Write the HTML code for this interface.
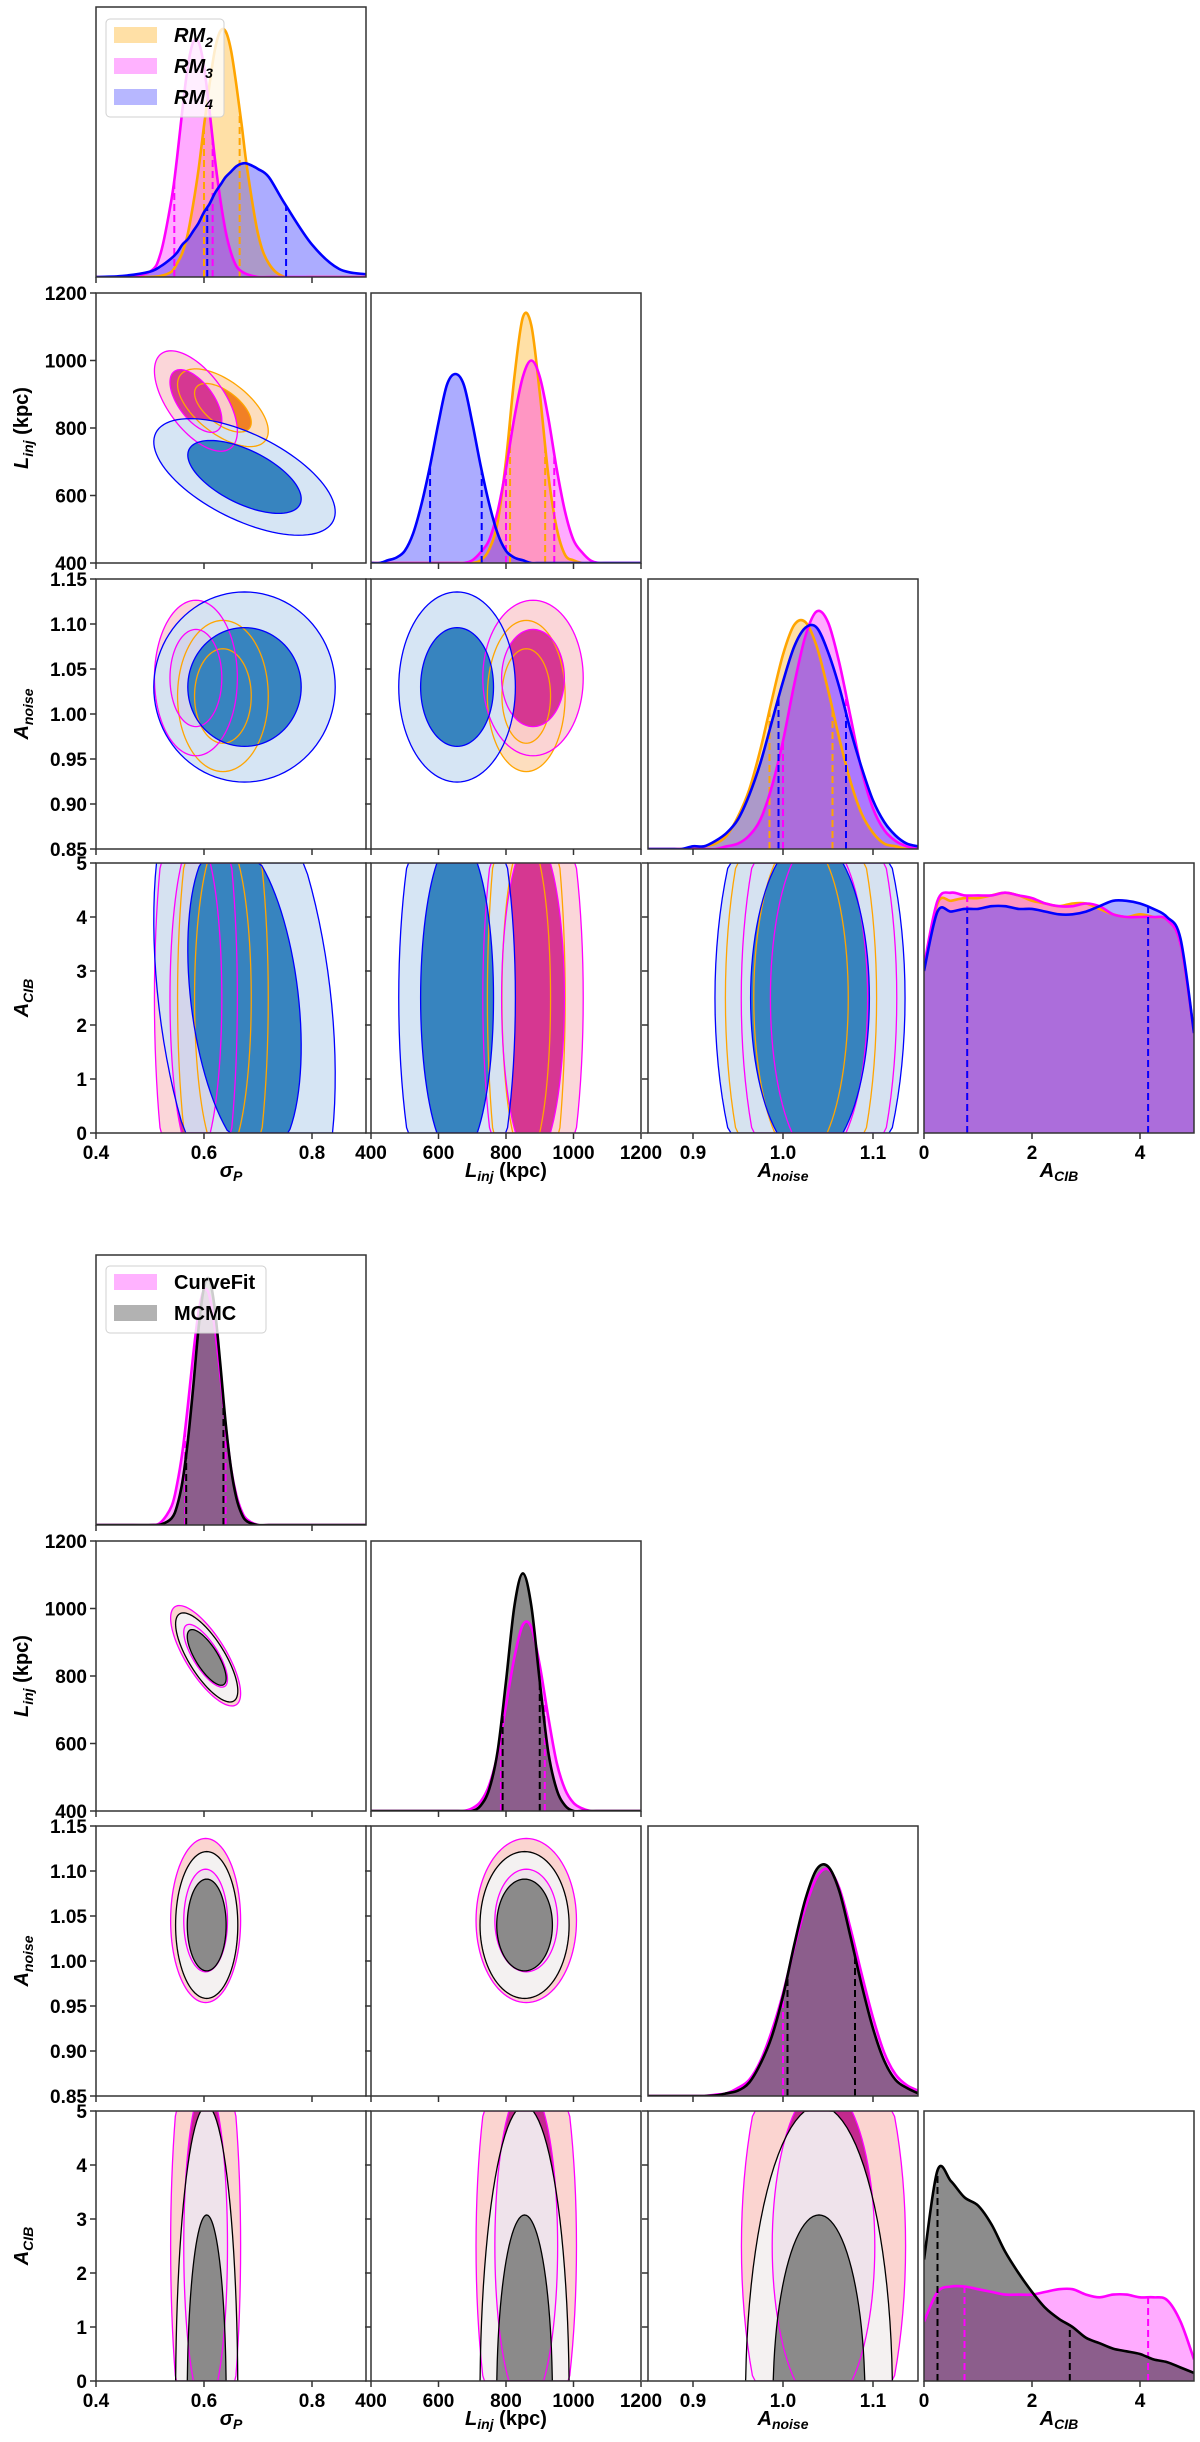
<!DOCTYPE html>
<html><head><meta charset="utf-8"><title>Corner plots</title>
<style>
html,body{margin:0;padding:0;background:#fff;overflow:hidden;width:1200px;height:2442px;}
svg text{font-family:"Liberation Sans",sans-serif;}
.tk{font-size:19px;font-weight:bold;fill:#000;}
.ttl{font-size:20px;font-weight:bold;fill:#000;}
</style></head>
<body>
<svg id="fig" xmlns="http://www.w3.org/2000/svg" width="1200" height="2442" viewBox="0 0 1200 2442" style="display:block;overflow:hidden">
<rect x="0" y="0" width="1200" height="2442" fill="#fff"/>
</svg>
<script>
// ---------- data ----------
const paramNames = ['sigma_P','L_inj','A_noise','A_CIB'];
const paramLo = [0.4, 400, 0.85, 0];
const paramHi = [0.9, 1200, 1.15, 5];
const xTickVals = [[0.4,0.6,0.8],[400,600,800,1000,1200],[0.9,1.0,1.1],[0,2,4]];
const xTickLabels = [['0.4','0.6','0.8'],['400','600','800','1000','1200'],['0.9','1.0','1.1'],['0','2','4']];
const yTickVals = [[],[400,600,800,1000,1200],[0.85,0.90,0.95,1.00,1.05,1.10,1.15],[0,1,2,3,4,5]];
const yTickLabels = [[],['400','600','800','1000','1200'],['0.85','0.90','0.95','1.00','1.05','1.10','1.15'],['0','1','2','3','4','5']];

const gridSigma = [.40,.45,.50,.52,.54,.55,.56,.57,.58,.59,.60,.61,.62,.63,.64,.65,.66,.67,.68,.70,.72,.75,.80,.85,.90];
const gridL = [400,425,450,475,500,525,550,575,600,625,650,675,700,725,750,775,800,825,850,875,900,925,950,975,1000,1025,1050,1075,1100,1125,1150,1175,1200];
const gridAn = [.85,.8625,.875,.8875,.90,.9125,.925,.9375,.95,.9625,.975,.9875,1.0,1.0125,1.025,1.0375,1.05,1.0625,1.075,1.0875,1.10,1.1125,1.125,1.1375,1.15];
const gridAcib = [0,.25,.5,.75,1,1.25,1.5,1.75,2,2.25,2.5,2.75,3,3.25,3.5,3.75,4,4.25,4.5,4.75,5];

// top corner: RM2 / RM3 / RM4
const rm2Sigma = [0,0,0,.004,.02,.05,.09,.16,.27,.40,.56,.71,.84,.91,.91,.84,.71,.56,.40,.16,.05,0,0,0,0];
const rm3Sigma = [0,0,.02,.09,.29,.44,.62,.78,.87,.87,.78,.62,.44,.29,.17,.09,.04,.02,.01,0,0,0,0,0,0];
const rm4Sigma = [0,.004,.02,.04,.07,.09,.12,.14,.17,.20,.24,.27,.31,.34,.37,.39,.41,.42,.42,.40,.37,.27,.12,.03,.01];
const rm2L = [0,0,0,0,0,0,0,0,0,0,0,0,0,.01,.05,.15,.38,.69,.91,.88,.63,.33,.13,.03,.01,0,0,0,0,0,0,0,0];
const rm3L = [0,0,0,0,0,0,0,0,0,0,0,0,.01,.04,.085,.19,.35,.54,.69,.75,.69,.54,.35,.19,.085,.04,.01,0,0,0,0,0,0];
const rm4L = [0,0,.01,.02,.045,.11,.22,.36,.52,.66,.70,.66,.52,.36,.22,.11,.045,.02,.01,0,0,0,0,0,0,0,0,0,0,0,0,0,0];
const rm2An = [0,0,0,0,.002,.01,.02,.05,.12,.22,.37,.55,.72,.83,.84,.75,.59,.41,.25,.13,.06,.02,.01,0,0];
const rm3An = [0,0,0,0,0,0,0,.01,.02,.05,.11,.23,.40,.61,.79,.88,.84,.69,.49,.29,.15,.07,.03,.01,0];
const rm4An = [0,0,0,0,.01,.01,.03,.06,.11,.20,.32,.47,.62,.75,.82,.82,.73,.60,.44,.30,.18,.10,.05,.02,.01];
const rm2Acib = [.6,.85,.86,.87,.87,.88,.89,.88,.86,.85,.84,.85,.85,.83,.81,.80,.81,.80,.79,.70,.37];
const rm3Acib = [.62,.86,.89,.88,.88,.88,.89,.88,.87,.85,.84,.84,.85,.84,.81,.80,.80,.80,.79,.70,.37];
const rm4Acib = [.6,.82,.82,.83,.83,.84,.84,.83,.83,.82,.81,.81,.82,.84,.86,.86,.85,.83,.80,.72,.37];
const rm2Quant = [[.60,.666],[812,916],[.985,1.055],[.8,4.15]];
const rm3Quant = [[.545,.616],[800,943],[1.0,1.07],[.8,4.15]];
const rm4Quant = [[.606,.752],[575,728],[.995,1.07],[.8,4.15]];
const rm2Mean = [.635, 860, 1.02, 2.5];
const rm2Sd = [.035, 48, .035, 2.0];
const rm3Mean = [.585, 880, 1.04, 2.5];
const rm3Sd = [.032, 62, .036, 2.0];
const rm4Mean = [.675, 655, 1.03, 2.5];
const rm4Sd = [.07, 72, .044, 2.0];
// correlations for pairs (s,L),(s,An),(s,A),(L,An),(L,A),(An,A)
const rm2Corr = [-0.6, 0, 0, 0, 0, 0];
const rm3Corr = [-0.6, 0, 0, 0, 0, 0];
const rm4Corr = [-0.6, 0, -0.3, 0, 0, 0];

// bottom corner: CurveFit / MCMC
const cfSigma = [0,0,0,.01,.07,.15,.27,.44,.63,.79,.87,.85,.73,.56,.37,.21,.11,.05,.02,0,0,0,0,0,0];
const mcSigma = [0,0,0,.002,.025,.07,.16,.31,.51,.73,.88,.91,.80,.60,.38,.21,.10,.04,.013,0,0,0,0,0,0];
const cfL = [0,0,0,0,0,0,0,0,0,0,0,0,.01,.035,.095,.21,.39,.57,.69,.68,.54,.35,.18,.08,.03,.01,0,0,0,0,0,0,0];
const mcL = [0,0,0,0,0,0,0,0,0,0,0,0,0,.02,.08,.22,.48,.76,.88,.76,.48,.22,.08,.02,0,0,0,0,0,0,0,0,0];
const cfAn = [0,0,0,0,0,0,.005,.01,.03,.06,.13,.24,.38,.55,.70,.81,.84,.77,.62,.45,.29,.16,.08,.04,.02];
const mcAn = [0,0,0,0,0,0,.002,.01,.02,.05,.12,.22,.37,.56,.73,.84,.85,.76,.59,.41,.25,.13,.06,.03,.01];
const cfAcib = [.22,.33,.35,.35,.34,.33,.32,.32,.32,.33,.34,.34,.32,.31,.32,.32,.31,.31,.30,.22,.08];
const mcAcib = [.45,.78,.74,.68,.65,.58,.48,.40,.33,.27,.23,.20,.16,.14,.12,.11,.10,.08,.07,.05,.03];
const cfQuant = [[.565,.64],[785,915],[1.0,1.08],[.75,4.15]];
const mcQuant = [[.567,.636],[790,900],[1.005,1.08],[.25,2.7]];
const cfMean = [.603, 860, 1.045, 2.5];
const cfSd = [.027, 62, .038, 2.0];
const mcMean = [.605, 855, 1.04, -0.3];
const mcSd = [.024, 55, .034, 2.25];
const cfCorr = [-0.75, 0, 0, 0, 0, 0];
const mcCorr = [-0.75, 0, 0, 0, 0, 0];

// ---------- layout & style ----------
const colX = [96, 371, 648, 924];
const PW = 270, PH = 270;
const topRowsY = [7, 293, 579, 863];
const botRowsY = [1255, 1541, 1826, 2111];
const grids = [gridSigma, gridL, gridAn, gridAcib];
const NS = 'http://www.w3.org/2000/svg';
const svg = document.getElementById('fig');

function mk(tag, attrs, parent){
  const e = document.createElementNS(NS, tag);
  for (const k in attrs) e.setAttribute(k, attrs[k]);
  parent.appendChild(e);
  return e;
}
function X(p, c, v){ return colX[c] + (v - paramLo[p]) / (paramHi[p] - paramLo[p]) * PW; }
function Y(p, top, v){ return top + PH - (v - paramLo[p]) / (paramHi[p] - paramLo[p]) * PH; }
function pairIdx(a, b){ const m = {'01':0,'02':1,'03':2,'12':3,'13':4,'23':5}; return m[Math.min(a,b)+''+Math.max(a,b)]; }

function smoothPath(pts){
  let d = 'M' + pts[0][0].toFixed(2) + ',' + pts[0][1].toFixed(2);
  for (let i = 0; i < pts.length - 1; i++){
    const p0 = pts[Math.max(0,i-1)], p1 = pts[i], p2 = pts[i+1], p3 = pts[Math.min(pts.length-1,i+2)];
    const c1x = p1[0] + (p2[0]-p0[0])/6, c1y = p1[1] + (p2[1]-p0[1])/6;
    const c2x = p2[0] - (p3[0]-p1[0])/6, c2y = p2[1] - (p3[1]-p1[1])/6;
    d += 'C' + c1x.toFixed(2) + ',' + c1y.toFixed(2) + ' ' + c2x.toFixed(2) + ',' + c2y.toFixed(2) + ' ' + p2[0].toFixed(2) + ',' + p2[1].toFixed(2);
  }
  return d;
}
function interp(xs, ys, v){
  for (let i = 0; i < xs.length - 1; i++){
    if (v >= xs[i] && v <= xs[i+1]){ const t = (v - xs[i]) / (xs[i+1] - xs[i]); return ys[i] + t * (ys[i+1] - ys[i]); }
  }
  return 0;
}
// ellipse as polygon, clamped to panel box
function ellPath(e, k, x0, y0){
  const th = e.ang * Math.PI / 180, ct = Math.cos(th), st = Math.sin(th);
  let d = '';
  for (let i = 0; i <= 96; i++){
    const t = i / 96 * 2 * Math.PI;
    const ux = k * e.r1 * Math.cos(t), uy = k * e.r2 * Math.sin(t);
    let px = e.cx + ux * ct - uy * st, py = e.cy + ux * st + uy * ct;
    px = Math.min(x0 + PW, Math.max(x0, px));
    py = Math.min(y0 + PH, Math.max(y0, py));
    d += (i === 0 ? 'M' : 'L') + px.toFixed(2) + ',' + py.toFixed(2);
  }
  return d + 'Z';
}

let clipId = 0;
function drawCorner(rowsY, series, tag){
  const g = mk('g', {}, svg);
  
  
  for (let r = 0; r < 4; r++){
    for (let c = 0; c <= r; c++){
      const x0 = colX[c], y0 = rowsY[r];
      const pg = mk('g', {}, g);
      
      
      const cid = 'clip' + (clipId++);
      const cp = mk('clipPath', {id: cid}, pg);
      mk('rect', {x: x0, y: y0, width: PW, height: PH}, cp);
      const inner = mk('g', {'clip-path': 'url(#' + cid + ')'}, pg);
      if (r === c){
        const p = r, xs = grids[p];
        series.forEach(s => {
          const ys = s.marg[p];
          const pts = xs.map((v,i) => [X(p,c,v), y0 + PH - ys[i]*PH]);
          const area = mk('path', {d: smoothPath(pts) + 'L' + (x0+PW) + ',' + (y0+PH) + 'L' + x0 + ',' + (y0+PH) + 'Z', fill: s.hist, 'fill-opacity': s.histOp, stroke: 'none'}, inner);
          
          
        });
        series.forEach(s => {
          const ys = s.marg[p];
          const pts = xs.map((v,i) => [X(p,c,v), y0 + PH - ys[i]*PH]);
          const ln = mk('path', {d: smoothPath(pts), fill: 'none', stroke: s.line, 'stroke-width': 2.6}, inner);
          
          
          s.q[p].forEach(qv => {
            const h = interp(xs, ys, qv);
            const ql = mk('line', {x1: X(p,c,qv), x2: X(p,c,qv), y1: y0 + PH, y2: y0 + PH - h*PH, stroke: s.line, 'stroke-width': 2, 'stroke-dasharray': '7,4'}, inner);
            
            
          });
        });
      } else {
        const px = c, py = r;
        const kx = PW / (paramHi[px] - paramLo[px]), ky = PH / (paramHi[py] - paramLo[py]);
        const ells = [];
        series.forEach(s => {
          const a = s.sd[px] * kx, b = s.sd[py] * ky, rho = -s.corr[pairIdx(px,py)];
          const T = a*a + b*b, D = a*a*b*b*(1 - rho*rho);
          const disc = Math.sqrt(Math.max(0, T*T/4 - D));
          const l1 = T/2 + disc, l2 = T/2 - disc;
          const ang = 0.5 * Math.atan2(2*rho*a*b, a*a - b*b) * 180 / Math.PI;
          const cx = X(px,c,s.mean[px]), cy = Y(py,y0,s.mean[py]);
          ells.push({s, cx, cy, r1: Math.sqrt(l1), r2: Math.sqrt(l2), ang});
        });
        ells.forEach(e => {
          const o = mk('path', {d: ellPath(e, 2.4, x0, y0), fill: e.s.outer, 'fill-opacity': 0.92, stroke: 'none'}, inner);
          
          
          const o2 = mk('path', {d: ellPath(e, 1.5, x0, y0), fill: e.s.inner, 'fill-opacity': 0.95, stroke: 'none'}, inner);
          
          
        });
        ells.forEach(e => {
          [2.4, 1.5].forEach(k => {
            const o = mk('path', {d: ellPath(e, k, x0, y0), fill: 'none', stroke: e.s.edge, 'stroke-width': 1.3}, inner);
            
            
          });
        });
      }
      const fr = mk('rect', {x: x0, y: y0, width: PW, height: PH, fill: 'none', stroke: '#333', 'stroke-width': 1.5}, pg);
      
      
      xTickVals[c].forEach((v,i) => {
        const tx = X(c,c,v);
        mk('line', {x1: tx, x2: tx, y1: y0+PH, y2: y0+PH+6, stroke: '#333', 'stroke-width': 1.5}, pg);
        if (r === 3){
          const t = mk('text', {x: tx, y: y0+PH+26, 'text-anchor': 'middle', class: 'tk'}, pg);
          t.textContent = xTickLabels[c][i];
          
          
        }
      });
      if (r !== c){
        yTickVals[r].forEach((v,i) => {
          const ty = Y(r,y0,v);
          mk('line', {x1: x0-6, x2: x0, y1: ty, y2: ty, stroke: '#333', 'stroke-width': 1.5}, pg);
          if (c === 0){
            const t = mk('text', {x: x0-9, y: ty+7, 'text-anchor': 'end', class: 'tk'}, pg);
            t.textContent = yTickLabels[r][i];
            
            
          }
        });
      }
    }
  }
  const xt = [['σ','P',''],['L','inj',' (kpc)'],['A','noise',''],['A','CIB','']];
  xt.forEach((tt, i) => {
    const t = mk('text', {x: colX[i] + PW/2, y: rowsY[3] + PH + 44, 'text-anchor': 'middle', class: 'ttl'}, g);
    t.innerHTML = '<tspan font-style="italic">' + tt[0] + '</tspan><tspan font-style="italic" font-size="14" dy="4">' + tt[1] + '</tspan><tspan dy="-4">' + tt[2] + '</tspan>';
    
    
  });
  for (let r = 1; r < 4; r++){
    const tt = xt[r];
    const cy = rowsY[r] + PH/2;
    const t = mk('text', {x: 0, y: 0, 'text-anchor': 'middle', class: 'ttl', transform: 'translate(28,' + cy + ') rotate(-90)'}, g);
    t.innerHTML = '<tspan font-style="italic">' + tt[0] + '</tspan><tspan font-style="italic" font-size="14" dy="5">' + tt[1] + '</tspan><tspan dy="-5">' + tt[2] + '</tspan>';
    
    
  }
  return g;
}

const topSeries = [
  {key:'rm2', marg:[rm2Sigma,rm2L,rm2An,rm2Acib], q:rm2Quant, mean:rm2Mean, sd:rm2Sd, corr:rm2Corr, hist:'#ffa500', histOp:0.35, line:'#ffa500', edge:'#ffa500', outer:'#fddbb8', inner:'#f07a1c'},
  {key:'rm3', marg:[rm3Sigma,rm3L,rm3An,rm3Acib], q:rm3Quant, mean:rm3Mean, sd:rm3Sd, corr:rm3Corr, hist:'#ff00ff', histOp:0.33, line:'#ff00ff', edge:'#ff00ff', outer:'#fbd3d6', inner:'#d42e8e'},
  {key:'rm4', marg:[rm4Sigma,rm4L,rm4An,rm4Acib], q:rm4Quant, mean:rm4Mean, sd:rm4Sd, corr:rm4Corr, hist:'#3030ff', histOp:0.4, line:'#0000ff', edge:'#0000ff', outer:'#d2e3f3', inner:'#2e7ebc'}
];
const botSeries = [
  {key:'curvefit', marg:[cfSigma,cfL,cfAn,cfAcib], q:cfQuant, mean:cfMean, sd:cfSd, corr:cfCorr, hist:'#ff00ff', histOp:0.33, line:'#ff00ff', edge:'#ff00ff', outer:'#fbd0cc', inner:'#c0208a'},
  {key:'mcmc', marg:[mcSigma,mcL,mcAn,mcAcib], q:mcQuant, mean:mcMean, sd:mcSd, corr:mcCorr, hist:'#000000', histOp:0.45, line:'#000000', edge:'#000000', outer:'#f3f3f3', inner:'#858585'}
];
drawCorner(topRowsY, topSeries, 'top');
drawCorner(botRowsY, botSeries, 'bottom');

function legend(x, y, w, h, entries, tag){
  const lg = mk('g', {}, svg);
  
  
  mk('rect', {x, y, width: w, height: h, rx: 4, fill: '#fff', 'fill-opacity': 0.8, stroke: '#d0d0d0'}, lg);
  entries.forEach((en, i) => {
    const ey = y + 16 + i*31;
    const p = mk('rect', {x: x+8, y: ey-8, width: 43, height: 16, fill: en.c, 'fill-opacity': en.o}, lg);
    
    
    const t = mk('text', {x: x+68, y: ey+7, class: 'ttl', 'font-size': '20'}, lg);
    t.innerHTML = en.html;
    
    
  });
}
legend(106, 19, 118, 98, [
  {c:'#ffa500', o:0.35, html:'<tspan font-style="italic">RM</tspan><tspan font-style="italic" font-size="14" dy="5">2</tspan>'},
  {c:'#ff00ff', o:0.3, html:'<tspan font-style="italic">RM</tspan><tspan font-style="italic" font-size="14" dy="5">3</tspan>'},
  {c:'#3030ff', o:0.35, html:'<tspan font-style="italic">RM</tspan><tspan font-style="italic" font-size="14" dy="5">4</tspan>'}
], 'top');
legend(106, 1266, 160, 67, [
  {c:'#ff00ff', o:0.3, html:'CurveFit'},
  {c:'#000000', o:0.3, html:'MCMC'}
], 'bottom');
</script>
</body></html>
